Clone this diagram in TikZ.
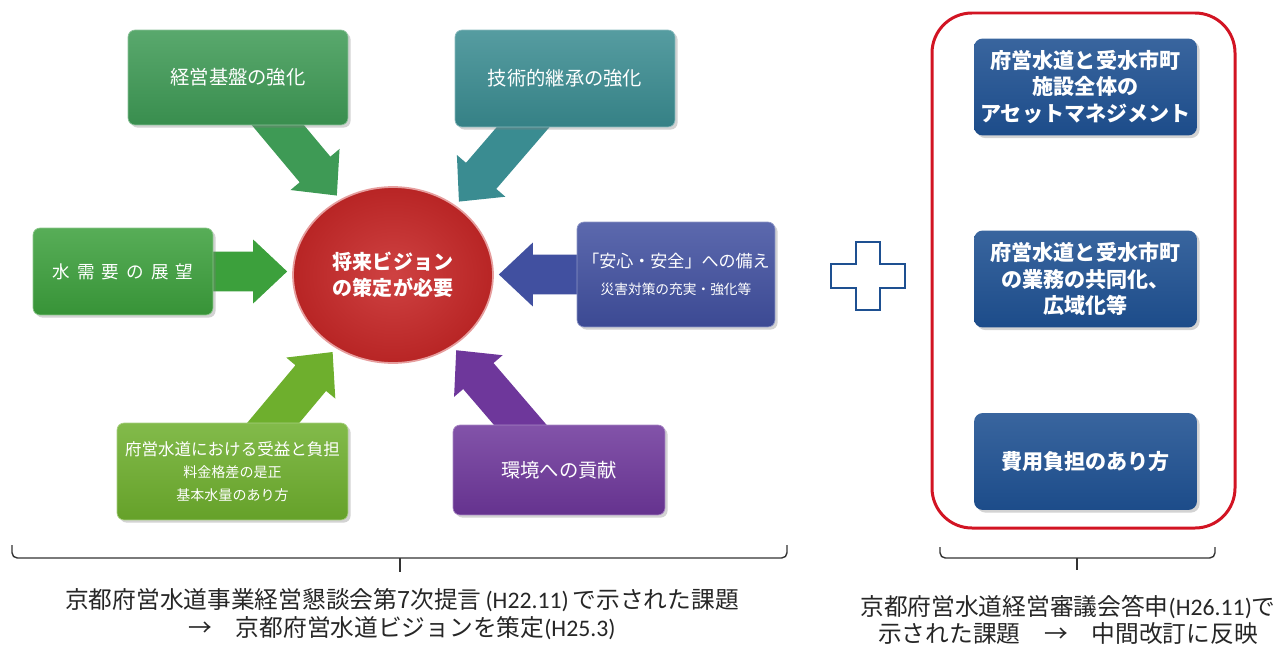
\documentclass[tikz,border=0pt]{standalone}
\usepackage{fontspec}
\setmainfont{Noto Sans CJK JP}
\newfontfamily\latinfont{Carlito}
\usetikzlibrary{calc,shapes.geometric,backgrounds,shadows}
\definecolor{keieiC}{HTML}{3E9A55}
\definecolor{gijutsuC}{HTML}{3A8C91}
\definecolor{juyouC}{HTML}{3CA03C}
\definecolor{anshinC}{HTML}{4150A0}
\definecolor{futanC}{HTML}{6EAF2D}
\definecolor{kankyoC}{HTML}{6E379B}
\definecolor{visionC}{HTML}{C82828}
\definecolor{kadaiC}{HTML}{1E5091}
\definecolor{wakuC}{HTML}{D21423}
\definecolor{braceC}{HTML}{333333}
\newcommand{\blockarrow}[3]{%
	\coordinate (tip) at ($(#3)!0.1cm!(#2)$);
	\coordinate (hb) at ($(tip)!0.68cm!(#2)$);
	\fill[#1] ($(#2)!0.4cm!90:(tip)$) -- ($(hb)!0.4cm!90:(tip)$) -- ($(hb)!0.64cm!90:(tip)$) -- (tip)
		-- ($(hb)!0.64cm!-90:(tip)$) -- ($(hb)!0.4cm!-90:(tip)$) -- ($(#2)!0.4cm!-90:(tip)$) -- cycle;}

\begin{document}
\begin{tikzpicture}[x=0.02cm,y=-0.02cm,
		issue/.style={rounded corners=4pt,inner sep=0pt,align=center,text=white,top color=#1!86!white,bottom color=#1!92!black,draw=#1!60!white,drop shadow={opacity=0.35,shadow xshift=1.5pt,shadow yshift=-1.5pt}},
		task/.style={rounded corners=5pt,inner sep=0pt,align=center,text=white,top color=kadaiC!88!white,bottom color=kadaiC!95!black,minimum width=4.46cm,minimum height=1.94cm,font=\fontsize{12}{15}\selectfont\bfseries,drop shadow={opacity=0.35,shadow xshift=1.5pt,shadow yshift=-1.5pt}},
		bigtext/.style={font=\fontsize{11}{14}\selectfont},
		note/.style={align=center,text=black!85,font=\fontsize{13.5}{15.5}\selectfont},
		bracket/.style={draw=braceC,line width=0.8pt,rounded corners=3pt}]
	\useasboundingbox (0,0) rectangle (1280,652);

	\node[issue=keieiC,minimum width=4.4cm,minimum height=1.9cm,bigtext] (keiei) at (238,77.5) {経営基盤の強化};
	\node[issue=gijutsuC,minimum width=4.4cm,minimum height=1.94cm,bigtext] (gijutsu) at (565,78.5) {技術的継承の強化};
	\node[issue=juyouC,minimum width=3.6cm,minimum height=1.74cm,font=\fontsize{10}{12}\selectfont] (juyou) at (123,271.5) {水\hspace{.4em}需\hspace{.4em}要\hspace{.4em}の\hspace{.4em}展\hspace{.4em}望};
	\node[shape=ellipse,minimum width=4cm,minimum height=3.52cm,inner sep=0pt,inner color=visionC!88!white,outer color=visionC!92!black,draw=visionC!45!white,line width=1pt,text=white,align=center,font=\fontsize{11.4}{14.8}\selectfont\bfseries] (vision) at (393,275) {将来ビジョン\\の策定が必要};
	\node[issue=anshinC,minimum width=3.96cm,minimum height=2.1cm,font=\fontsize{9.7}{15}\selectfont] (anshin) at (676,274.5) {「安心・安全」への備え\\{\fontsize{7.8}{10}\selectfont 災害対策の充実・強化等}};
	\node[issue=futanC,minimum width=4.62cm,minimum height=1.94cm,font=\fontsize{9.4}{13}\selectfont] (futan) at (232.5,471.5) {府営水道における受益と負担\\{\fontsize{8}{13}\selectfont 料金格差の是正}\\{\fontsize{8}{13}\selectfont 基本水量のあり方}};
	\node[issue=kankyoC,minimum width=4.24cm,minimum height=1.8cm,bigtext] (kankyo) at (559,470) {環境への貢献};

	\begin{scope}[on background layer]
		\blockarrow{keieiC}{keiei}{vision.125}
		\blockarrow{gijutsuC}{gijutsu}{vision.48}
		\blockarrow{juyouC}{juyou}{juyou -| vision.west}
		\blockarrow{anshinC}{anshin}{anshin -| vision.east}
		\blockarrow{futanC}{futan}{vision.232}
		\blockarrow{kankyoC}{kankyo}{vision.310}
	\end{scope}

	\draw[draw=kadaiC,line width=1.1pt,fill=white] (856,242) -- (880,242) -- (880,264) -- (905,264) -- (905,288) -- (880,288) -- (880,310) -- (856,310) -- (856,288) -- (831,288) -- (831,264) -- (856,264) -- cycle;

	\draw[draw=wakuC,line width=1.7pt,rounded corners=0.8cm] (932,13) rectangle (1235,528);
	\node[task] (r1) at (1085.5,87) {府営水道と受水市町\\施設全体の\\アセットマネジメント};
	\node[task] (r2) at (1085.5,279) {府営水道と受水市町\\の業務の共同化、\\広域化等};
	\node[task] (r3) at (1085.5,461.5) {費用負担のあり方};

	\draw[bracket] (12,545) |- (787,558) -- (787,545);
	\draw[bracket] (400,558) -- (400,572);
	\draw[bracket] (940,547) |- (1215,558) -- (1215,547);
	\draw[bracket] (1077,558) -- (1077,570);

	\node[note] (teigen) at (402,614) {京都府営水道事業経営懇談会第7次提言\,{\latinfont (H22.11)}\,で示された課題\\→\hspace{1em}京都府営水道ビジョンを策定{\latinfont (H25.3)}};
	\node[note] (toushin) at (1068,620) {京都府営水道経営審議会答申{\latinfont (H26.11)}で\\示された課題\hspace{1em}→\hspace{1em}中間改訂に反映};
\end{tikzpicture}
\end{document}
